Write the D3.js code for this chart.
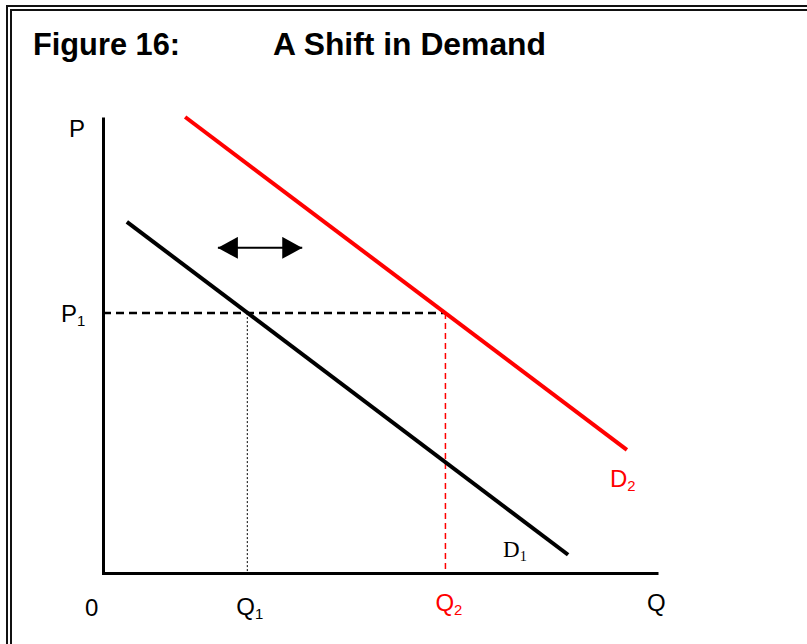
<!DOCTYPE html>
<html>
<head>
<meta charset="utf-8">
<script src="https://cdn.jsdelivr.net/npm/d3@7"></script>
<style>
  body { margin:0; background:#fff; }
  svg { display:block; font-family:"Liberation Sans", Arial, sans-serif; }
</style>
</head>
<body>
<svg id="chart" width="807" height="644"></svg>
<script>
// curve end points in (Q, P) units, axis domain 0..100
const demand1 = [{q:4.3, p:77}, {q:83.8, p:4}]
const demand2 = [{q:14.8, p:100}, {q:94.4, p:27}]
const priceP1 = 57
const qtyQ1 = 26
const qtyQ2 = 61.7
const shiftArrow = [{q:20.7, p:71.3}, {q:35.9, p:71.3}]

const svg = d3.select('#chart')

// double frame round the figure
svg.append('rect').attr('x',7).attr('y',6).attr('width',900).attr('height',700)
    .attr('fill','none').attr('stroke','#111').attr('stroke-width',2)
svg.append('rect').attr('x',11).attr('y',10).attr('width',900).attr('height',700)
    .attr('fill','none').attr('stroke','#111').attr('stroke-width',2)

svg.append('text').attr('x',33).attr('y',55)
    .attr('font-size',31).attr('font-weight','bold')
    .attr('textLength',147).attr('lengthAdjust','spacingAndGlyphs')
    .text('Figure 16:')
svg.append('text').attr('x',273).attr('y',55)
    .attr('font-size',31).attr('font-weight','bold')
    .attr('textLength',273).attr('lengthAdjust','spacingAndGlyphs')
    .text('A Shift in Demand')

const x = d3.scaleLinear().domain([0,100]).range([103,658])
const y = d3.scaleLinear().domain([0,100]).range([573,117])

// axes: only the domain lines, no ticks
const xAxis = svg.append('g').attr('transform',`translate(0,${y(0)})`)
    .call(d3.axisBottom(x).ticks(0).tickSizeOuter(0))
const yAxis = svg.append('g').attr('transform',`translate(${x(0)},0)`)
    .call(d3.axisLeft(y.copy().range([574.5,117])).ticks(0).tickSizeOuter(0))
svg.selectAll('.domain').attr('stroke','#000').attr('stroke-width',3)

const line = d3.line().x(d => x(d.q)).y(d => y(d.p))

// guide lines
svg.append('path')
    .attr('d', line([{q:0,p:priceP1},{q:qtyQ2,p:priceP1}]))
    .attr('stroke','#000').attr('stroke-width',2.5).attr('stroke-dasharray','8,5')
svg.append('path')
    .attr('d', line([{q:qtyQ1,p:priceP1},{q:qtyQ1,p:0}]))
    .attr('stroke','#000').attr('stroke-width',1).attr('stroke-dasharray','2,2')
svg.append('path')
    .attr('d', line([{q:qtyQ2,p:priceP1},{q:qtyQ2,p:0}]))
    .attr('stroke','#f00').attr('stroke-width',1.5).attr('stroke-dasharray','6,4')

svg.append('path').attr('d', line(demand1))
    .attr('stroke','#000').attr('stroke-width',4).attr('fill','none')
svg.append('path').attr('d', line(demand2))
    .attr('stroke','#f00').attr('stroke-width',4).attr('fill','none')

// double headed arrow
const defs = svg.append('defs')
defs.append('marker').attr('id','head')
    .attr('viewBox','0 0 20 22').attr('refX',20).attr('refY',11)
    .attr('markerWidth',20).attr('markerHeight',22)
    .attr('markerUnits','userSpaceOnUse').attr('orient','auto-start-reverse')
  .append('path').attr('d','M0,0L20,11L0,22Z').attr('fill','#000')
svg.append('path').attr('d', line(shiftArrow))
    .attr('stroke','#000').attr('stroke-width',2)
    .attr('marker-start','url(#head)').attr('marker-end','url(#head)')

// labels
function label(txt, sub, px, py, opts={}) {
    const size = opts.size || 24
    const t = svg.append('text').attr('x',px).attr('y',py)
        .attr('font-size',size)
        .attr('fill',opts.color || '#000')
    if (opts.serif) t.attr('font-family','"Liberation Serif", "Times New Roman", serif')
    t.append('tspan').text(txt)
    if (sub) t.append('tspan').attr('font-size',size*0.62).attr('dy',4).text(sub)
    return t
}
label('P', null, x(0)-34, y(100)+20)
label('P', '1', x(0)-42, y(priceP1)+9)
label('0', null, x(0)-18, 616)
label('Q', '1', x(qtyQ1)-11, 615)
label('Q', '2', x(qtyQ2)-10, 611, {color:'#f00'})
label('Q', null, 647, 611)
label('D', '2', 610, 487, {color:'#f00'})
label('D', '1', 503, 557, {serif:true, size:23})
</script>
</body>
</html>
